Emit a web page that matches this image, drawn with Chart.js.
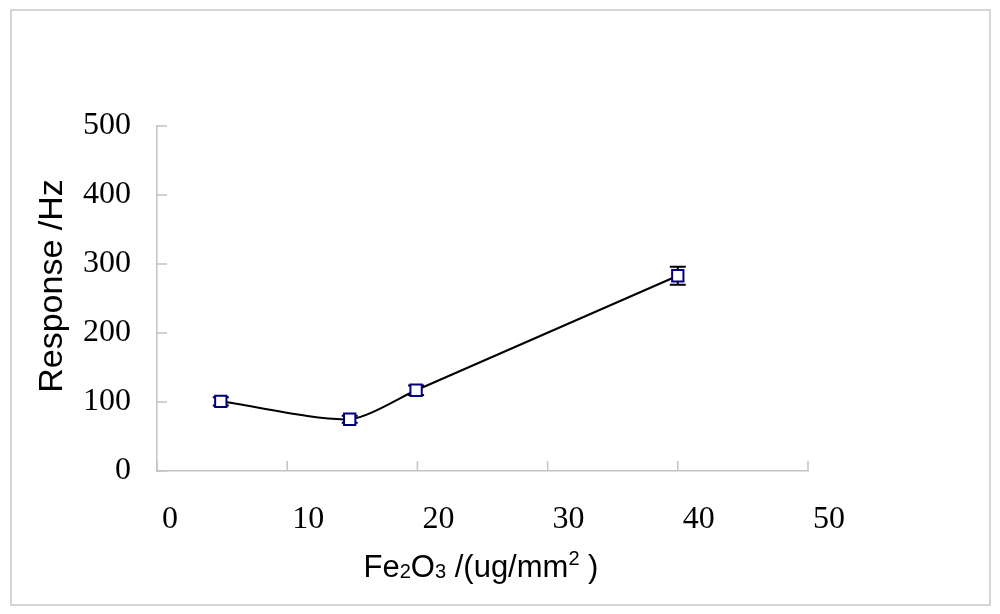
<!DOCTYPE html>
<html>
<head>
<meta charset="utf-8">
<script src="https://cdn.jsdelivr.net/npm/chart.js@4.4.1/dist/chart.umd.min.js"></script>
<style>
  html, body { margin: 0; padding: 0; background: #fff; }
  #chart { display: block; }
</style>
</head>
<body>
<canvas id="chart" width="1000" height="614"></canvas>
<script>
// Fe2O3 loading vs. sensor response
const loadings = [4.9, 14.8, 19.9, 40];      // ug/mm2
const responses = [101, 75, 117, 283];       // Hz
const errors = [6, 5, 7, 13];                // +/- Hz

const xTitleParts = [
    { text: 'Fe', kind: 'n' },
    { text: '2', kind: 'sub' },
    { text: 'O', kind: 'n' },
    { text: '3', kind: 'sub' },
    { text: ' /(ug/mm', kind: 'n' },
    { text: '2', kind: 'sup' },
    { text: ' )', kind: 'n' }
];
const yTitle = 'Response /Hz';

const axisGray = '#c4c4c4';
const sansFont = '"Liberation Sans", Arial, sans-serif';

// frame, titles, inner tick marks and error bars
const decorations = {
    id: 'decorations',
    beforeDatasetsDraw(chart) {
        const ctx = chart.ctx;
        const xs = chart.scales.x, ys = chart.scales.y;
        ctx.save();
        // inner tick marks
        ctx.strokeStyle = axisGray;
        ctx.lineWidth = 1.5;
        ctx.beginPath();
        ys.ticks.forEach(t => {
            const py = ys.getPixelForValue(t.value);
            ctx.moveTo(xs.left, py);
            ctx.lineTo(xs.left + 10, py);
        });
        xs.ticks.forEach(t => {
            const px = xs.getPixelForValue(t.value);
            ctx.moveTo(px, ys.bottom);
            ctx.lineTo(px, ys.bottom - 10);
        });
        ctx.stroke();

        // error bars
        ctx.strokeStyle = '#000';
        ctx.lineWidth = 2;
        loadings.forEach((x, i) => {
            const px = xs.getPixelForValue(x);
            const top = ys.getPixelForValue(responses[i] + errors[i]);
            const bot = ys.getPixelForValue(responses[i] - errors[i]);
            ctx.beginPath();
            ctx.moveTo(px, top); ctx.lineTo(px, bot);
            ctx.moveTo(px - 8, top); ctx.lineTo(px + 8, top);
            ctx.moveTo(px - 8, bot); ctx.lineTo(px + 8, bot);
            ctx.stroke();
        });
        ctx.restore();
    },
    afterDraw(chart) {
        const ctx = chart.ctx;
        ctx.save();
        // outer frame
        ctx.strokeStyle = '#c8c8c8';
        ctx.lineWidth = 1.5;
        ctx.strokeRect(11, 10, 979, 595);

        ctx.fillStyle = '#000';
        // y title
        ctx.save();
        ctx.translate(62, 286);
        ctx.rotate(-Math.PI / 2);
        ctx.font = '34px ' + sansFont;
        ctx.textAlign = 'center';
        ctx.textBaseline = 'alphabetic';
        ctx.fillText(yTitle, 0, 0);
        ctx.restore();

        // x title with sub/superscripts
        const big = '31px ' + sansFont, small = '20px ' + sansFont;
        let total = 0;
        xTitleParts.forEach(p => {
            ctx.font = p.kind === 'n' ? big : small;
            total += ctx.measureText(p.text).width;
        });
        let cx = 481 - total / 2;
        const base = 577;
        ctx.textAlign = 'left';
        ctx.textBaseline = 'alphabetic';
        xTitleParts.forEach(p => {
            ctx.font = p.kind === 'n' ? big : small;
            const dy = p.kind === 'sup' ? -12 : (p.kind === 'sub' ? 1 : 0);
            ctx.fillText(p.text, cx, base + dy);
            cx += ctx.measureText(p.text).width;
        });
        ctx.restore();
    }
};

const tickFont = { family: '"Liberation Serif", "Times New Roman", serif', size: 32 };

new Chart(document.getElementById('chart'), {
    type: 'line',
    data: {
        datasets: [{
            data: loadings.map((x, i) => ({ x, y: responses[i] })),
            borderColor: '#000',
            borderWidth: 2,
            tension: 0.25,
            pointStyle: 'rect',
            pointRadius: 8,
            pointBorderWidth: 2,
            pointBorderColor: '#000080',
            pointBackgroundColor: '#fff'
        }]
    },
    options: {
        responsive: false,
        devicePixelRatio: 1,
        animation: false,
        layout: { padding: { top: 126, right: 192, left: 0, bottom: 0 } },
        plugins: { legend: { display: false }, tooltip: { enabled: false } },
        scales: {
            x: {
                type: 'linear', min: 0, max: 50,
                afterFit: s => { s.height = 143; },
                grid: { drawOnChartArea: false, drawTicks: false },
                border: { display: true, color: axisGray, width: 1.5 },
                ticks: {
                    stepSize: 10, color: '#000', font: tickFont,
                    align: 'start', labelOffset: 5, padding: 29, maxRotation: 0
                }
            },
            y: {
                min: 0, max: 500,
                afterFit: s => { s.width = 157; },
                grid: { drawOnChartArea: false, drawTicks: false },
                border: { display: true, color: axisGray, width: 1.5 },
                ticks: { stepSize: 100, color: '#000', font: tickFont, padding: 26 }
            }
        }
    },
    plugins: [decorations]
});
</script>
</body>
</html>
